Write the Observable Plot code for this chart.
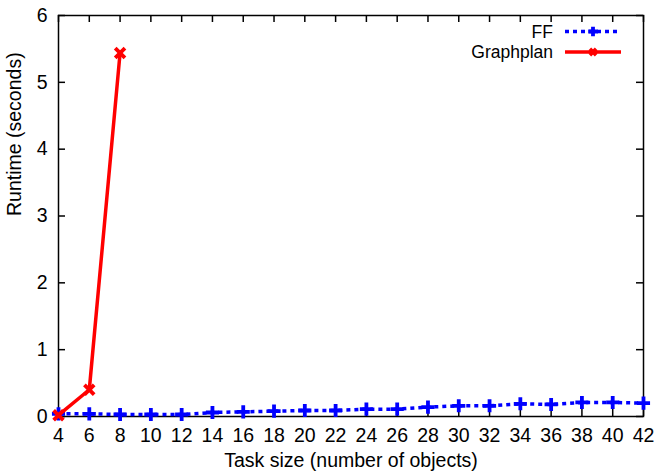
<!DOCTYPE html>
<html>
<head>
<meta charset="utf-8">
<script src="https://cdn.jsdelivr.net/npm/d3@7"></script>
<script src="https://cdn.jsdelivr.net/npm/@observablehq/plot@0.6"></script>
<style>
  html, body { margin: 0; padding: 0; background: #fff; }
  #chart { position: relative; width: 655px; height: 475px; }
</style>
</head>
<body>
<div id="chart"></div>
<script>
const ffSizes = [4, 6, 8, 10, 12, 14, 16, 18, 20, 22, 24, 26, 28, 30, 32, 34, 36, 38, 40, 42];
const ffRuntime = [0.04, 0.04, 0.03, 0.03, 0.03, 0.06, 0.07, 0.08, 0.09, 0.09, 0.11, 0.11, 0.14, 0.16, 0.16, 0.19, 0.18, 0.21, 0.21, 0.20];
const gpSizes = [4, 6, 8];
const gpRuntime = [0.02, 0.40, 5.44];
const xTicks = [4, 6, 8, 10, 12, 14, 16, 18, 20, 22, 24, 26, 28, 30, 32, 34, 36, 38, 40, 42];
const yTicks = [0, 1, 2, 3, 4, 5, 6];
const seriesNames = ["FF", "Graphplan"];
const seriesColors = ["#0000ff", "#ff0000"];

const ff = ffSizes.map((x, i) => ({x, y: ffRuntime[i]}));
const gp = gpSizes.map((x, i) => ({x, y: gpRuntime[i]}));

const W = 655, H = 475, mL = 58, mR = 12, mT = 15, mB = 59;
const fw = W - mL - mR, fh = H - mT - mB, tk = 7;
const FS = 19.5;
const LFS = 17.5;
const FONT = "'Liberation Sans', Arial, sans-serif";

const svg = Plot.plot({
  width: W, height: H,
  marginLeft: mL, marginRight: mR, marginTop: mT, marginBottom: mB,
  style: {fontFamily: FONT, fontSize: FS + "px", color: "#000", background: "#fff"},
  x: {domain: [4, 42]},
  y: {domain: [0, 6]},
  marks: [
    Plot.axisX({ticks: xTicks, tickSize: 0, tickPadding: 12, label: null, fontSize: FS, tickFormat: d => String(d)}),
    Plot.axisY({ticks: yTicks, tickSize: 0, tickPadding: 11, label: null, fontSize: FS, tickFormat: d => String(d)}),
    Plot.tickX(xTicks, {x: d => d, insetTop: fh - tk, stroke: "#000", strokeWidth: 1.5}),
    Plot.tickX(xTicks, {x: d => d, insetBottom: fh - tk, stroke: "#000", strokeWidth: 1.5}),
    Plot.tickY(yTicks, {y: d => d, insetRight: fw - tk, stroke: "#000", strokeWidth: 1.5}),
    Plot.tickY(yTicks, {y: d => d, insetLeft: fw - tk, stroke: "#000", strokeWidth: 1.5}),
    Plot.frame({stroke: "#000", strokeWidth: 1.5}),
    Plot.text(["Task size (number of objects)"], {frameAnchor: "bottom", dy: 50, fontSize: FS}),
    Plot.text(["Runtime (seconds)"], {frameAnchor: "left", dx: -44, rotate: -90, fontSize: FS}),
    Plot.line(ff, {x: "x", y: "y", stroke: seriesColors[0], strokeWidth: 3.5, strokeDasharray: "4,4", strokeLinecap: "butt"}),
    Plot.dot(ff, {x: "x", y: "y", symbol: d3.symbolPlus, r: 4.3, stroke: seriesColors[0], fill: "none", strokeWidth: 3.8}),
    Plot.line(gp, {x: "x", y: "y", stroke: seriesColors[1], strokeWidth: 3.5}),
    Plot.dot(gp, {x: "x", y: "y", symbol: d3.symbolTimes, r: 4.5, stroke: seriesColors[1], fill: "none", strokeWidth: 3.8})
  ]
});

// legend (inside top-right of frame)
const g = d3.select(svg).append("g").attr("font-family", FONT).attr("font-size", LFS);
const legendRows = [
  {name: seriesNames[0], color: seriesColors[0], dash: "4,4", sym: d3.symbolPlus, r: 3.2, x2: 617},
  {name: seriesNames[1], color: seriesColors[1], dash: null, sym: d3.symbolTimes, r: 3.0, x2: 621}
];
legendRows.forEach((r, i) => {
  const cy = 31.5 + i * 20.5;
  g.append("text").attr("x", 553).attr("y", cy).attr("dy", "0.35em").attr("text-anchor", "end").attr("fill", "#000").text(r.name);
  const ln = g.append("line").attr("x1", 565).attr("x2", r.x2).attr("y1", cy).attr("y2", cy)
    .attr("stroke", r.color).attr("stroke-width", 3.5);
  if (r.dash) ln.attr("stroke-dasharray", r.dash);
  g.append("path").attr("d", d3.symbol(r.sym, Math.PI * r.r * r.r)()).attr("transform", `translate(593,${cy})`)
    .attr("fill", "none").attr("stroke", r.color).attr("stroke-width", 3.8);
});

document.getElementById("chart").appendChild(svg);
</script>
</body>
</html>
